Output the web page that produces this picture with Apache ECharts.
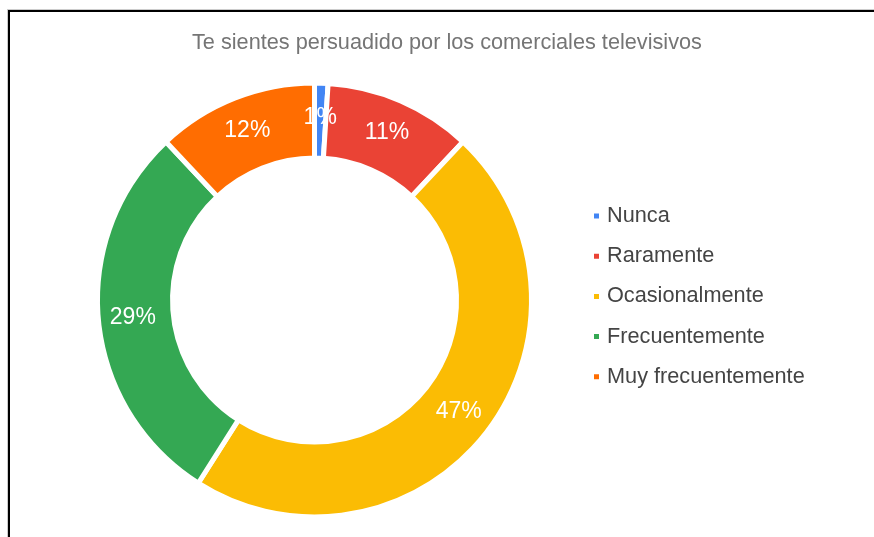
<!DOCTYPE html>
<html>
<head>
<meta charset="utf-8">
<title>Te sientes persuadido por los comerciales televisivos</title>
<script src="https://cdn.jsdelivr.net/npm/echarts@6/dist/echarts.min.js"></script>
<style>
  html, body { margin: 0; padding: 0; background: #fff; }
  #chart { width: 874px; height: 537px; }
</style>
</head>
<body>
<div id="chart"></div>
<script>
// datos
var categorias = ['Nunca', 'Raramente', 'Ocasionalmente', 'Frecuentemente', 'Muy frecuentemente'];
var valores = [1, 11, 47, 29, 12];
var colores = ['#4285F4', '#EA4335', '#FBBC04', '#34A853', '#FF6D01'];

var myChart = echarts.init(document.getElementById('chart'));

var datos = categorias.map(function(nombre, i) {
  return { name: nombre, value: valores[i], itemStyle: { color: colores[i] } };
});

var option = {
  backgroundColor: '#fff',
  animation: false,
  title: {
    text: 'Te sientes persuadido por los comerciales televisivos',
    left: 187,
    top: 27,
    textStyle: {
      fontFamily: 'Liberation Sans, Arial, sans-serif',
      fontSize: 21.7,
      fontWeight: 'normal',
      color: '#757575'
    }
  },
  legend: {
    orient: 'vertical',
    left: 587,
    top: 200,
    icon: 'rect',
    itemWidth: 7,
    itemHeight: 7,
    itemGap: 18.2,
    data: categorias,
    textStyle: {
      fontFamily: 'Liberation Sans, Arial, sans-serif',
      fontSize: 21.7,
      lineHeight: 22,
      color: '#444',
      padding: [0, 0, 0, 2]
    }
  },
  graphic: [
    // marco de la captura
    { type: 'line', shape: { x1: 8, y1: 9.5, x2: 874, y2: 9.5 }, style: { stroke: '#ccc', lineWidth: 1 } },
    { type: 'line', shape: { x1: 7.5, y1: 9, x2: 7.5, y2: 537 }, style: { stroke: '#ccc', lineWidth: 1 } },
    { type: 'line', shape: { x1: 8, y1: 11, x2: 874, y2: 11 }, style: { stroke: '#000', lineWidth: 2 } },
    { type: 'line', shape: { x1: 9, y1: 10, x2: 9, y2: 537 }, style: { stroke: '#000', lineWidth: 2 } }
  ],
  series: [
    {
      type: 'pie',
      center: [314.5, 300],
      radius: [142, 217],
      startAngle: 90,
      clockwise: true,
      avoidLabelOverlap: false,
      itemStyle: {
        borderColor: '#fff',
        borderWidth: 5
      },
      label: {
        show: true,
        position: 'inside',
        formatter: '{d}%',
        color: '#fff',
        fontFamily: 'Liberation Sans, Arial, sans-serif',
        fontSize: 23
      },
      labelLine: { show: false },
      data: datos
    }
  ]
};

myChart.setOption(option);
</script>
</body>
</html>
